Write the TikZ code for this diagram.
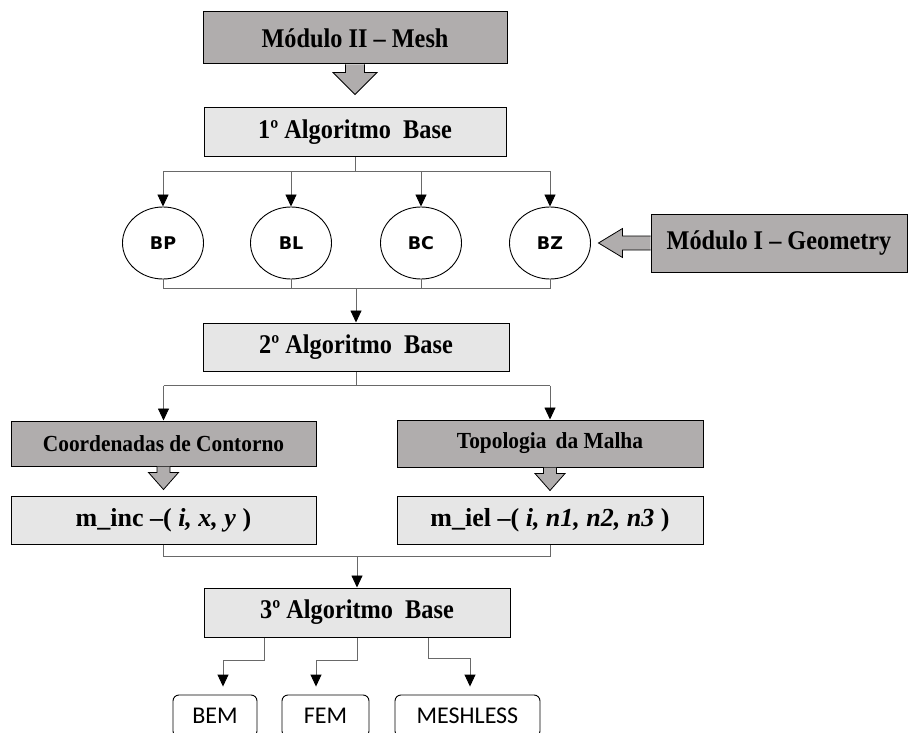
\documentclass[tikz,border=0pt]{standalone}
\usepackage{fontspec}
\setmainfont{Liberation Serif}
\newfontfamily\headserif[FakeStretch=0.9]{Liberation Serif}
\newfontfamily\smallserif[FakeStretch=0.93]{Liberation Serif}
\newfontfamily\circfont{DejaVu Sans}
\newfontfamily\methfont{Carlito}
\usetikzlibrary{arrows.meta,shapes.geometric,calc}

\definecolor{modgray}{RGB}{176,173,173}
\definecolor{alggray}{RGB}{230,230,230}
\definecolor{linkgray}{RGB}{105,105,105}

\begin{document}
\begin{tikzpicture}[x=1pt,y=-1pt,
	box/.style={draw=black, line width=1pt, inner sep=0pt, font=\headserif\fontsize{27}{31}\selectfont\bfseries},
	modbox/.style={box, fill=modgray},
	algbox/.style={box, fill=alggray},
	subfont/.style={font=\smallserif\fontsize{23}{27}\selectfont\bfseries},
	matfont/.style={font=\fontsize{26}{30}\selectfont\bfseries},
	base/.style={ellipse, draw=black, line width=0.9pt, fill=white, minimum width=81pt, minimum height=72pt, inner sep=0pt, font=\circfont\bfseries\fontsize{17.5}{20}\selectfont},
	meth/.style={draw=black, line width=0.9pt, rounded corners=6pt, minimum height=42pt, inner sep=0pt, font=\methfont\fontsize{24}{28}\selectfont},
	link/.style={draw=linkgray, line width=0.9pt},
	arr/.style={link, -{Triangle[length=12pt,width=11pt,color=black]}},
	blockarr/.style={draw=black, fill=modgray, line width=0.8pt, line join=miter}]

	\useasboundingbox (0,0) rectangle (908,733);

	% modules and base algorithms
	\node[modbox, minimum width=304pt, minimum height=52pt] (mod2) at (355,38) {Módulo II – Mesh};
	\node[algbox, minimum width=302pt, minimum height=49pt] (alg1) at (355,132.5) {1º Algoritmo\hspace{0.45em}Base};

	\node[base] (bp) at (163,243) {BP};
	\node[base] (bl) at (291,243) {BL};
	\node[base] (bc) at (421,243) {BC};
	\node[base] (bz) at (550,243) {BZ};
	\node[modbox, minimum width=256pt, minimum height=58pt] (mod1) at (779,243) {Módulo I – Geometry};

	\node[algbox, minimum width=306pt, minimum height=48pt] (alg2) at (356,347) {2º Algoritmo\hspace{0.45em}Base};

	\node[modbox, subfont, minimum width=305pt, minimum height=45pt] (coord) at (163.5,443.5) {Coordenadas de Contorno};
	\node[modbox, subfont, minimum width=306pt, minimum height=47pt] (topo) at (550,443.5) {Topologia\hspace{0.4em}da Malha};
	\node[algbox, matfont, minimum width=305pt, minimum height=48pt] (minc) at (163.5,520) {m\_inc –( \textit{i, x, y} )};
	\node[algbox, matfont, minimum width=306pt, minimum height=48pt] (miel) at (550,520) {m\_iel –( \textit{i, n1, n2, n3} )};

	\node[algbox, minimum width=306pt, minimum height=49pt] (alg3) at (357,612.5) {3º Algoritmo\hspace{0.45em}Base};

	% methods (cut by the page edge)
	\node[meth, minimum width=84pt] (bem) at (215,716) {BEM};
	\node[meth, minimum width=87pt] (fem) at (325.5,716) {FEM};
	\node[meth, minimum width=145pt] (mless) at (467.5,716) {MESHLESS};

	% block arrows
	\draw[blockarr] ([xshift=-9.5pt]mod2.south) -- ++(0,8) -- ++(-12.5,0) -- ++(22,22) -- ++(22,-22) -- ++(-12.5,0) -- ++(0,-8);
	\draw[blockarr] ([yshift=7pt]mod1.west) -- ++(-28,0) -- ++(0,-7.5) -- ++(-24,14.5) -- ++(24,14.5) -- ++(0,-7.5) -- ++(28,0);
	\foreach \n in {coord,topo}
		\draw[blockarr] ([xshift=-6.5pt]\n.south) -- ++(0,6) -- ++(-8.5,0) -- ++(15,17) -- ++(15,-17) -- ++(-8.5,0) -- ++(0,-6);

	% split to the bases
	\coordinate (s1) at ($(alg1.south)+(0,14)$);
	\draw[link] (alg1.south) -- (s1);
	\draw[link] (bp.north |- s1) -- (bz.north |- s1);
	\foreach \b in {bp,bl,bc,bz}
		\draw[arr] (\b.north |- s1) -- (\b.north);

	% merge into 2nd algorithm
	\coordinate (m1) at ($(alg2.north)+(0,-34)$);
	\foreach \b in {bp,bl,bc,bz}
		\draw[link] (\b.south) -- (\b.south |- m1);
	\draw[link] (bp.south |- m1) -- (bz.south |- m1);
	\draw[arr] (m1) -- (alg2.north);

	% split to boundary / topology
	\coordinate (s2) at ($(alg2.south)+(0,14)$);
	\draw[link] (alg2.south) -- (s2);
	\draw[link] (coord.north |- s2) -- (topo.north |- s2);
	\draw[arr] (coord.north |- s2) -- (coord.north);
	\draw[arr] (topo.north |- s2) -- (topo.north);

	% merge into 3rd algorithm
	\coordinate (m2) at ($(alg3.north)+(0,-31)$);
	\draw[link] (minc.south) -- (minc.south |- m2) -- (miel.south |- m2) -- (miel.south);
	\draw[arr] (m2) -- (alg3.north);

	% out to the methods
	\draw[arr] ([xshift=-93pt]alg3.south) -- ++(0,23) -| ([xshift=8pt,yshift=8pt]bem.north);
	\draw[arr] (alg3.south) -- ++(0,23) -| ([xshift=-9.5pt,yshift=8pt]fem.north);
	\draw[arr] ([xshift=71pt]alg3.south) -- ++(0,21) -| ([xshift=2.5pt,yshift=8pt]mless.north);
\end{tikzpicture}
\end{document}
